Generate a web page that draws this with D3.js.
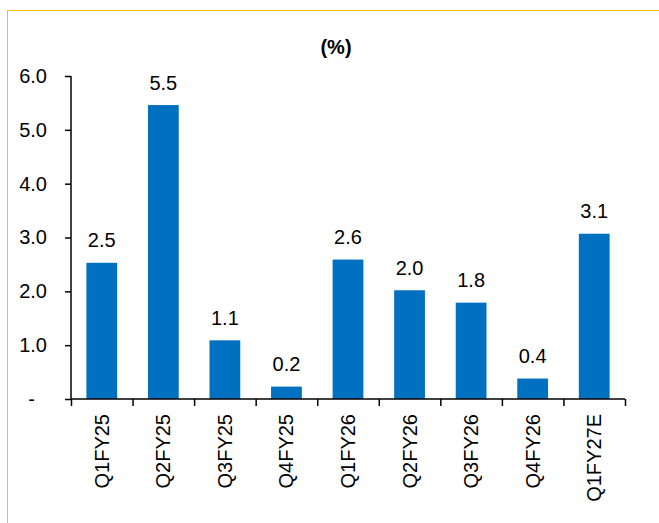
<!DOCTYPE html>
<html>
<head>
<meta charset="utf-8">
<script src="https://cdn.jsdelivr.net/npm/d3@7"></script>
<style>
  body { margin: 0; background: #fff; }
  svg { display: block; font-family: Arial, "Liberation Sans", sans-serif; }
</style>
</head>
<body>
<div id="chart"></div>
<script>
var width = 659;
var height = 523;

// data
var quarters = ["Q1FY25", "Q2FY25", "Q3FY25", "Q4FY25", "Q1FY26", "Q2FY26", "Q3FY26", "Q4FY26", "Q1FY27E"];
var values = [2.53, 5.46, 1.09, 0.23, 2.59, 2.02, 1.79, 0.38, 3.07];
var yTicks = [0, 1, 2, 3, 4, 5, 6];
var title = "(%)";

// plot edges (not "top": that name is taken by window.top)
var plotL = 71, plotR = 625, plotT = 76, plotB = 399;

var svg = d3.select("#chart").append("svg")
    .attr("width", width)
    .attr("height", height);

// yellow frame (only top and left edges fall inside the picture)
svg.append("rect")
    .attr("x", 7.5)
    .attr("y", 10.5)
    .attr("width", 700)
    .attr("height", 600)
    .attr("fill", "none")
    .attr("stroke", "#FFC000")
    .attr("stroke-width", 1);

svg.append("text")
    .attr("x", 336)
    .attr("y", 54)
    .attr("text-anchor", "middle")
    .attr("font-size", 20)
    .attr("font-weight", "bold")
    .attr("fill", "#000")
    .text(title);

var x = d3.scaleBand()
    .domain(quarters)
    .range([plotL, plotR])
    .paddingInner(0.5)
    .paddingOuter(0.25);

var y = d3.scaleLinear()
    .domain([0, 6])
    .range([plotB, plotT]);

// bars
svg.selectAll("rect.bar")
    .data(values)
  .enter()
    .append("rect")
    .attr("class", "bar")
    .attr("x", function(d, i){ return x(quarters[i]); })
    .attr("y", function(d){ return y(d); })
    .attr("width", x.bandwidth())
    .attr("height", function(d){ return plotB - y(d); })
    .attr("fill", "#0070C0");

// value labels
svg.selectAll("text.val")
    .data(values)
  .enter()
    .append("text")
    .attr("class", "val")
    .attr("x", function(d, i){ return x(quarters[i]) + x.bandwidth() / 2; })
    .attr("y", function(d){ return y(d) - 15.5; })
    .attr("text-anchor", "middle")
    .attr("font-size", 20)
    .attr("fill", "#000")
    .text(function(d){ return d3.format(".1f")(d); });

// y axis
var yAxis = svg.append("g")
    .attr("transform", "translate(" + plotL + ",0)")
    .call(d3.axisLeft(y)
        .tickValues(yTicks)
        .tickSize(6)
        .tickPadding(18)
        .tickFormat(function(d){ return d === 0 ? "-" : d3.format(".1f")(d); }));

yAxis.select(".domain").attr("stroke", "#000").attr("stroke-width", 1.5)
    .attr("d", "M0," + plotT + "V" + plotB);
yAxis.selectAll(".tick line").attr("stroke", "#000").attr("stroke-width", 1.5);
yAxis.selectAll(".tick text")
    .attr("font-size", 20)
    .attr("font-family", "Arial, 'Liberation Sans', sans-serif")
    .attr("fill", "#000")
    .attr("dx", function(d){ return d === 0 ? -12 : 0; });

// x axis: tick marks sit on the category boundaries
var xb = d3.scaleLinear().domain([0, quarters.length]).range([plotL, plotR]);
var xAxis = svg.append("g")
    .attr("transform", "translate(0," + plotB + ")")
    .call(d3.axisBottom(xb)
        .tickValues(d3.range(quarters.length + 1))
        .tickSize(7)
        .tickFormat(""));

xAxis.select(".domain").attr("stroke", "#000").attr("stroke-width", 1.5)
    .attr("d", "M" + plotL + ",0H" + plotR);
xAxis.selectAll(".tick line").attr("stroke", "#000").attr("stroke-width", 1.5);

// rotated category labels
svg.selectAll("text.cat")
    .data(quarters)
  .enter()
    .append("text")
    .attr("class", "cat")
    .attr("transform", function(d){
        return "translate(" + (x(d) + x.bandwidth() / 2) + "," + 414 + ") rotate(-90)";
    })
    .attr("text-anchor", "end")
    .attr("dy", "0.35em")
    .attr("font-size", 20)
    .attr("fill", "#000")
    .text(function(d){ return d; });
</script>
</body>
</html>
